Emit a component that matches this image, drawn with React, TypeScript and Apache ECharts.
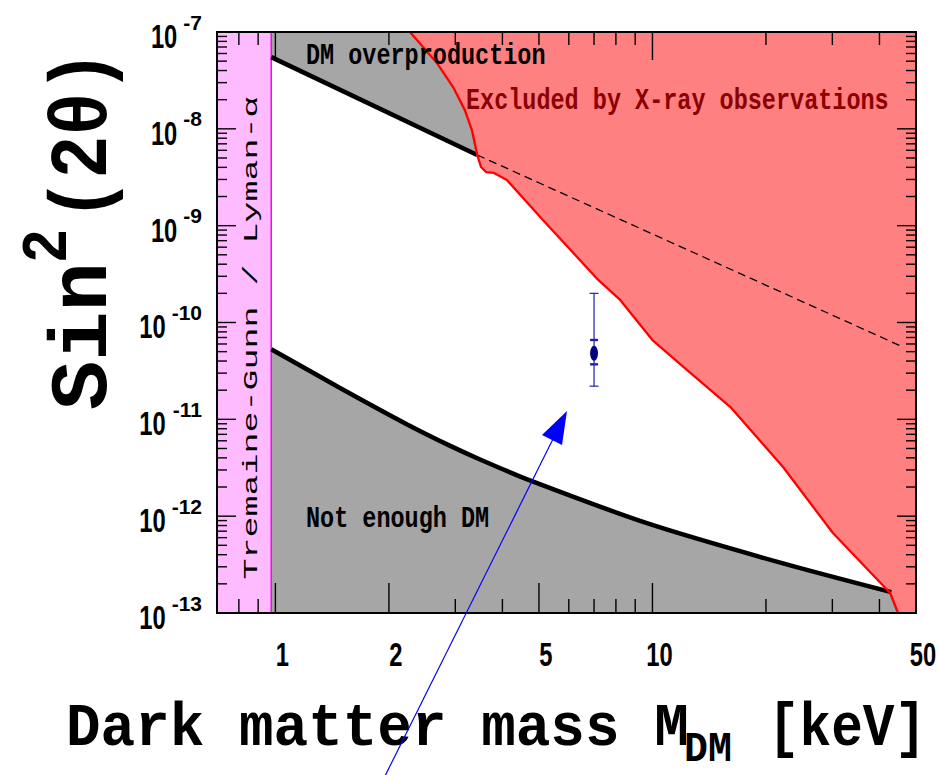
import React, { useEffect, useRef } from "react";
import * as echarts from "echarts";

// Axis ranges: sterile neutrino mass (keV) and mixing angle sin^2(2θ)
const massRange = [0.7, 50];
const sinRange = [1e-13, 1e-7];

// Tremaine-Gunn / Lyman-α lower mass bound (keV)
const massBound = 0.975;

// DM overproduction boundary: solid up to the X-ray limit, dashed beyond it
const overprodMass = [0.975, 3.43];
const overprodSin = [5.5e-8, 5.37e-9];
const overprodDashMass = [3.43, 46.2];
const overprodDashSin = [5.37e-9, 5.58e-11];

// "Not enough DM" boundary
const minProdMass = [0.975, 1.48, 2.23, 2.9, 3.49, 4.73, 9.85, 22.2, 43.0];
const minProdSin = [5.3e-11, 2.12e-11, 8.91e-12, 5.35e-12, 3.85e-12, 2.34e-12, 8.26e-13, 3.25e-13, 1.64e-13];

// X-ray exclusion limit
const xrayMass = [2.275, 2.68, 2.96, 3.18, 3.32, 3.43, 3.51, 3.62, 3.8, 4.11, 5.13, 7.18, 8.21, 10.0, 12.1, 16.1, 22.2, 30.1, 42.7, 44.8];
const xraySin = [1e-7, 4.79e-8, 2.7e-8, 1.56e-8, 9.72e-9, 5.37e-9, 4.04e-9, 3.58e-9, 3.5e-9, 2.96e-9, 1.14e-9, 2.75e-10, 1.71e-10, 6.59e-11, 3.47e-11, 1.34e-11, 3.22e-12, 6.7e-13, 1.61e-13, 1e-13];

// Line candidate with inner and outer error ranges
const lineMass = [7.0];
const lineSin = [4.8e-11];
const lineInnerLo = [3.7e-11];
const lineInnerHi = [6.6e-11];
const lineOuterLo = [2.2e-11];
const lineOuterHi = [2.0e-10];

// Tick values and labels
const xLabelValues = [1, 2, 5, 10, 50];
const xLabelTexts = ["1", "2", "5", "10", "50"];
const xMinorValues = [0.8, 0.9, 3, 4, 6, 7, 8, 9, 20, 30, 40];
const xTopMajorValues = [1, 10];
const xTopMinorValues = [0.8, 0.9, 2, 3, 4, 5, 6, 7, 8, 9, 20, 30, 40];
const yDecadeExponents = [-13, -12, -11, -10, -9, -8, -7];
const yMinorSteps = [2, 3, 4, 5, 6, 7, 8, 9];

const pairs = (xs: number[], ys: number[]) => xs.map((x, i) => [x, ys[i]]);

const MONO = '"Liberation Mono", "DejaVu Sans Mono", monospace';
const SANS = '"Liberation Sans", Arial, sans-serif';

function renderRegions(params: any, api: any) {
  const P = (m: number, s: number) => api.coord([m, s]);
  const [m0, m1] = massRange;
  const [s0, s1] = sinRange;
  const xrayPts = xrayMass.map((m, i) => P(m, xraySin[i]));
  const cut = xrayMass.findIndex((m) => m >= overprodMass[overprodMass.length - 1]);
  const pink = [P(m0, s1), P(massBound, s1), P(massBound, s0), P(m0, s0)];
  const upperGray = [
    P(massBound, s1),
    ...overprodMass.map((m, i) => P(m, overprodSin[i])),
    ...xrayPts.slice(0, cut).reverse(),
  ];
  const lowerGray = [
    ...minProdMass.map((m, i) => P(m, minProdSin[i])),
    P(xrayMass[xrayMass.length - 1], s0),
    P(massBound, s0),
  ];
  const red = [...xrayPts, P(m1, s0), P(m1, s1)];
  const poly = (pts: number[][], fill: string) => ({
    type: "polygon",
    shape: { points: pts },
    style: { fill, stroke: "none" },
  });
  return {
    type: "group",
    children: [
      poly(pink, "#ffbbff"),
      poly(upperGray, "#a6a6a6"),
      poly(lowerGray, "#a6a6a6"),
      poly(red, "#ff8080"),
    ],
  };
}

function renderFrame(params: any, api: any) {
  const cs = params.coordSys;
  const left = cs.x;
  const top = cs.y;
  const right = cs.x + cs.width;
  const bottom = cs.y + cs.height;
  const ch: any[] = [];
  const tick = (x1: number, y1: number, x2: number, y2: number) =>
    ch.push({ type: "line", shape: { x1, y1, x2, y2 }, style: { stroke: "#000", lineWidth: 1.4 } });
  const X = (m: number) => api.coord([m, sinRange[0]])[0];
  const Y = (s: number) => api.coord([massRange[0], s])[1];

  xLabelValues.forEach((m) => tick(X(m), bottom, X(m), bottom - 30));
  xMinorValues.forEach((m) => tick(X(m), bottom, X(m), bottom - 14));
  xTopMajorValues.forEach((m) => tick(X(m), top, X(m), top + 28));
  xTopMinorValues.forEach((m) => tick(X(m), top, X(m), top + 13));

  yDecadeExponents.forEach((e) => {
    const y = Y(Math.pow(10, e));
    tick(left, y, left + 19, y);
    tick(right, y, right - 19, y);
  });
  yDecadeExponents.slice(0, -1).forEach((e) => {
    yMinorSteps.forEach((k) => {
      const y = Y(k * Math.pow(10, e));
      tick(left, y, left + 10, y);
      tick(right, y, right - 10, y);
    });
  });

  ch.push({
    type: "rect",
    shape: { x: left, y: top, width: cs.width, height: cs.height },
    style: { fill: "none", stroke: "#000", lineWidth: 2 },
  });

  // x tick labels
  xLabelValues.forEach((m, i) => {
    ch.push({
      type: "text",
      x: X(m) + 7,
      y: bottom + 42,
      scaleX: 0.72,
      style: {
        text: xLabelTexts[i],
        font: `bold 33px ${SANS}`,
        fill: "#000",
        align: "center",
        verticalAlign: "middle",
      },
    });
  });

  // y tick labels: 10 with a superscript exponent
  const supRight = left - 15;
  yDecadeExponents.forEach((e) => {
    const y = Y(Math.pow(10, e));
    const sup = String(e);
    const supW = 21 * (0.333 + 0.556 * (sup.length - 1));
    ch.push({
      type: "text",
      x: supRight,
      y: y - 10,
      style: { text: sup, font: `bold 21px ${SANS}`, fill: "#000", align: "right", verticalAlign: "middle" },
    });
    ch.push({
      type: "text",
      x: supRight - supW - 6,
      y: y + 4.5,
      scaleX: 0.72,
      style: { text: "10", font: `bold 33px ${SANS}`, fill: "#000", align: "right", verticalAlign: "middle" },
    });
  });

  return { type: "group", children: ch };
}

function renderCandidate(params: any, api: any) {
  const m = api.value(0);
  const c = api.coord([m, api.value(1)]);
  const iLo = api.coord([m, api.value(2)]);
  const iHi = api.coord([m, api.value(3)]);
  const oLo = api.coord([m, api.value(4)]);
  const oHi = api.coord([m, api.value(5)]);
  const stroke = "#2323a6";
  const seg = (x1: number, y1: number, x2: number, y2: number, w: number) => ({
    type: "line",
    shape: { x1, y1, x2, y2 },
    style: { stroke, lineWidth: w },
  });
  return {
    type: "group",
    children: [
      seg(oLo[0], oLo[1], oHi[0], oHi[1], 1.2),
      seg(oLo[0] - 4.5, oLo[1], oLo[0] + 4.5, oLo[1], 1.2),
      seg(oHi[0] - 4.5, oHi[1], oHi[0] + 4.5, oHi[1], 1.2),
      seg(iLo[0] - 4, iLo[1], iLo[0] + 4, iLo[1], 2.4),
      seg(iHi[0] - 4, iHi[1], iHi[0] + 4, iHi[1], 2.4),
      { type: "ellipse", shape: { cx: c[0], cy: c[1], rx: 3.9, ry: 7.5 }, style: { fill: "#000080" } },
    ],
  };
}

function buildOption() {
  const lineSeries = (data: number[][], color: string, width: number, extra: any = {}) => ({
    type: "line",
    data,
    z: 3,
    symbol: "none",
    silent: true,
    lineStyle: { color, width, cap: "butt", ...(extra.lineStyle || {}) },
    smooth: extra.smooth || false,
  });

  const textEl = (x: number, y: number, text: string, font: string, fill: string, extra: any = {}) => ({
    type: "text",
    x,
    y,
    z: 10,
    silent: true,
    ...extra,
    style: { text, font, fill, align: extra.align || "left", verticalAlign: "middle" },
  });

  return {
    animation: false,
    backgroundColor: "#ffffff",
    grid: { left: 217, top: 32, right: 22, bottom: 162, show: false },
    xAxis: {
      type: "log",
      logBase: 10,
      min: massRange[0],
      max: massRange[1],
      axisLine: { show: false },
      axisTick: { show: false },
      axisLabel: { show: false },
      splitLine: { show: false },
    },
    yAxis: {
      type: "log",
      logBase: 10,
      min: sinRange[0],
      max: sinRange[1],
      axisLine: { show: false },
      axisTick: { show: false },
      axisLabel: { show: false },
      splitLine: { show: false },
    },
    series: [
      { type: "custom", z: 1, silent: true, data: [[1, 1e-10]], renderItem: renderRegions },
      lineSeries([[massBound, sinRange[0]], [massBound, sinRange[1]]], "#ff00ff", 1.5),
      lineSeries(pairs(overprodMass, overprodSin), "#000000", 4.5),
      lineSeries(pairs(overprodDashMass, overprodDashSin), "#000000", 1.3, { lineStyle: { type: [8, 5] } }),
      lineSeries(pairs(minProdMass, minProdSin), "#000000", 4.5, { smooth: 0.25 }),
      lineSeries(pairs(xrayMass, xraySin), "#ff0000", 2.3),
      { type: "custom", z: 6, silent: true, data: [[1, 1e-10]], renderItem: renderFrame },
      {
        type: "custom",
        z: 7,
        silent: true,
        data: lineMass.map((m, i) => [m, lineSin[i], lineInnerLo[i], lineInnerHi[i], lineOuterLo[i], lineOuterHi[i]]),
        renderItem: renderCandidate,
      },
    ],
    graphic: {
      elements: [
        textEl(306, 56, "DM overproduction", `bold 29px ${MONO}`, "#000000", { scaleX: 0.81 }),
        textEl(466, 101, "Excluded by X-ray observations", `bold 29px ${MONO}`, "#8b0000", { scaleX: 0.81 }),
        textEl(306, 519, "Not enough DM", `bold 29px ${MONO}`, "#000000", { scaleX: 0.81 }),
        textEl(251.5, 338, "Tremaine-Gunn / Lyman-\u03b1", `20px ${MONO}`, "#000000", {
          rotation: Math.PI / 2,
          scaleX: 1.75,
          align: "center",
        }),
        // y-axis title
        textEl(84, 410, "Sin", `bold 82px ${MONO}`, "#000000", { rotation: Math.PI / 2, scaleX: 1.0 }),
        textEl(49, 246, "2", `bold 64px ${MONO}`, "#000000", { rotation: Math.PI / 2, scaleX: 0.9, align: "center" }),
        textEl(84, 50, "(2\u03b8)", `bold 82px ${MONO}`, "#000000", { rotation: Math.PI / 2, scaleX: 0.87, align: "right" }),
        // x-axis title
        textEl(66, 728, "Dark matter mass M", `bold 62px ${MONO}`, "#000000", { scaleX: 0.93 }),
        textEl(684, 750, "DM", `bold 42px ${MONO}`, "#000000", { scaleX: 0.95 }),
        textEl(768, 728, "[keV]", `bold 62px ${MONO}`, "#000000", { scaleX: 0.85 }),
        // arrow pointing at the line candidate
        {
          type: "line",
          z: 20,
          silent: true,
          shape: { x1: 385, y1: 776, x2: 556, y2: 433 },
          style: { stroke: "#0000ff", lineWidth: 1.2 },
        },
        {
          type: "polygon",
          z: 20,
          silent: true,
          shape: { points: [[567, 411], [542, 435], [562, 445]] },
          style: { fill: "#0000ff" },
        },
      ],
    },
  };
}

export default function App() {
  const ref = useRef<HTMLDivElement>(null);
  useEffect(() => {
    if (!ref.current) return;
    const chart = echarts.init(ref.current, null, { renderer: "svg" });
    chart.setOption(buildOption() as any);
    return () => chart.dispose();
  }, []);
  return (
    <div
      ref={ref}
      style={{ position: "absolute", left: 0, top: 0, width: 938, height: 775, background: "#fff" }}
    />
  );
}
